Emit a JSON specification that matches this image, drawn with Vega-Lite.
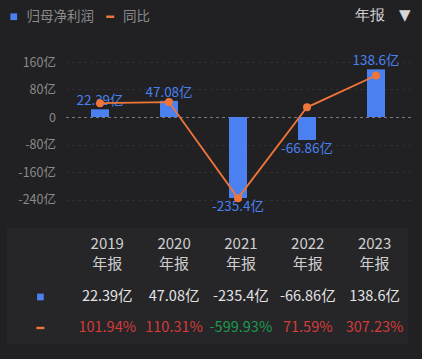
{
  "$schema": "https://vega.github.io/schema/vega-lite/v6.json",
  "width": 345,
  "height": 137.5,
  "autosize": {"type": "none"},
  "padding": {"left": 65.5, "top": 62, "right": 11.5, "bottom": 159.5},
  "background": "#212124",
  "config": {
    "font": "Noto Sans CJK SC",
    "view": {"stroke": null},
    "text": {"font": "Noto Sans CJK SC"}
  },
  "title": {
    "text": "年报\u00a0\u00a0\u00a0▼",
    "anchor": "end",
    "frame": "group",
    "font": "DejaVu Sans",
    "fontSize": 15,
    "fontWeight": "normal",
    "color": "#d6d6d6",
    "offset": -13
  },
  "datasets": {
    "main": [
      {"year": "2019", "profit": 22.39, "profitLabel": "22.39亿", "yoy": 101.94, "yoyLabel": "101.94%"},
      {"year": "2020", "profit": 47.08, "profitLabel": "47.08亿", "yoy": 110.31, "yoyLabel": "110.31%"},
      {"year": "2021", "profit": -235.4, "profitLabel": "-235.4亿", "yoy": -599.93, "yoyLabel": "-599.93%"},
      {"year": "2022", "profit": -66.86, "profitLabel": "-66.86亿", "yoy": 71.59, "yoyLabel": "71.59%"},
      {"year": "2023", "profit": 138.6, "profitLabel": "138.6亿", "yoy": 307.23, "yoyLabel": "307.23%"}
    ],
    "markers": [
      {"col": "sym", "row": "value", "kind": "归母净利润"},
      {"col": "sym", "row": "pct", "kind": "同比"}
    ],
    "panel": [{"from": "sym", "to": "2023", "top": "header", "bottom": "pct"}]
  },
  "layer": [
    {
      "data": {"name": "main"},
      "encoding": {
        "x": {"field": "year", "type": "nominal", "axis": null, "scale": {"type": "band", "paddingInner": 0, "paddingOuter": 0}},
        "y": {"field": "profit", "type": "quantitative", "scale": {"domain": [-240, 160], "nice": false, "zero": true},
          "axis": {
            "values": [-240, -160, -80, 0, 80, 160],
            "labelExpr": "datum.value == 0 ? '0' : datum.value + '亿'",
            "title": null, "ticks": false, "domain": false, "labelPadding": 10,
            "labelColor": "#8a8a8a", "labelFontSize": 12.5, "labelFlush": false, "labelOverlap": false,
            "grid": true, "gridDash": [3, 3], "gridWidth": 1,
            "gridColor": {"condition": {"test": "datum.value === 0", "value": "#7a7a7e"}, "value": "#2f2f33"}
          }}
      },
      "layer": [
        {
          "mark": {"type": "bar", "size": 18},
          "encoding": {
            "fill": {"datum": "归母净利润", "type": "nominal", "scale": {"range": ["#4a80ef"]},
              "legend": {"orient": "none", "legendX": -58.5, "legendY": -52, "title": null, "symbolType": "square", "symbolSize": 45, "labelColor": "#8a8a8a", "labelFontSize": 13.5, "labelOffset": 6, "padding": 0}}
          }
        },
        {
          "transform": [{"filter": "datum.profit >= 0"}],
          "mark": {"type": "text", "baseline": "middle", "dy": -8, "fontSize": 13.5, "color": "#4a80ef"},
          "encoding": {"text": {"field": "profitLabel", "type": "nominal"}}
        },
        {
          "transform": [{"filter": "datum.profit < 0"}],
          "mark": {"type": "text", "baseline": "middle", "dy": 9.5, "fontSize": 13.5, "color": "#4a80ef"},
          "encoding": {"text": {"field": "profitLabel", "type": "nominal"}}
        }
      ]
    },
    {
      "data": {"name": "main"},
      "encoding": {
        "x": {"field": "year", "type": "nominal", "axis": null, "scale": {"type": "band", "paddingInner": 0, "paddingOuter": 0}},
        "y": {"field": "yoy", "type": "quantitative", "axis": null, "scale": {"domain": [-610, 406.67], "nice": false, "zero": false}}
      },
      "layer": [
        {
          "mark": {"type": "line", "strokeWidth": 1.8},
          "encoding": {
            "stroke": {"datum": "同比", "type": "nominal", "scale": {"range": ["#f07538"]},
              "legend": {"orient": "none", "legendX": 38, "legendY": -52, "title": null, "symbolType": "stroke", "symbolSize": 64, "symbolStrokeWidth": 2.5, "labelColor": "#8a8a8a", "labelFontSize": 13.5, "labelOffset": 6, "padding": 0}}
          }
        },
        {
          "mark": {"type": "point", "filled": true, "size": 64, "opacity": 1, "color": "#f07538"}
        }
      ]
    },
    {
      "layer": [
        {
          "data": {"name": "panel"},
          "mark": {"type": "rect", "fill": "#262629"},
          "encoding": {
            "x": {"field": "from", "type": "nominal", "bandPosition": 0, "axis": null, "scale": {"domain": ["sym", "2019", "2020", "2021", "2022", "2023"], "range": [-58.5, 342.5], "paddingInner": 0, "paddingOuter": 0}},
            "x2": {"field": "to", "bandPosition": 1},
            "y": {"field": "top", "type": "nominal", "bandPosition": 0, "axis": null, "scale": {"domain": ["header", "value", "pct"], "range": [166, 282], "paddingInner": 0, "paddingOuter": 0}},
            "y2": {"field": "bottom", "bandPosition": 1}
          }
        },
        {
          "data": {"name": "main"},
          "mark": {"type": "text", "baseline": "middle", "dy": -3.3, "fontSize": 15, "color": "#cfcfcf"},
          "encoding": {
            "x": {"field": "year", "type": "nominal", "axis": null, "scale": {"domain": ["sym", "2019", "2020", "2021", "2022", "2023"], "range": [-58.5, 342.5], "paddingInner": 0, "paddingOuter": 0}},
            "y": {"datum": "header", "type": "nominal", "axis": null, "scale": {"domain": ["header", "value", "pct"], "range": [166, 282], "paddingInner": 0, "paddingOuter": 0}},
            "text": {"field": "year", "type": "nominal"}
          }
        },
        {
          "data": {"name": "main"},
          "mark": {"type": "text", "baseline": "middle", "dy": 16.7, "fontSize": 15, "color": "#cfcfcf", "text": "年报"},
          "encoding": {
            "x": {"field": "year", "type": "nominal", "axis": null, "scale": {"domain": ["sym", "2019", "2020", "2021", "2022", "2023"], "range": [-58.5, 342.5], "paddingInner": 0, "paddingOuter": 0}},
            "y": {"datum": "header", "type": "nominal", "axis": null, "scale": {"domain": ["header", "value", "pct"], "range": [166, 282], "paddingInner": 0, "paddingOuter": 0}}
          }
        },
        {
          "data": {"name": "main"},
          "mark": {"type": "text", "baseline": "middle", "dy": 11, "fontSize": 14.5, "color": "#e2e2e2"},
          "encoding": {
            "x": {"field": "year", "type": "nominal", "axis": null, "scale": {"domain": ["sym", "2019", "2020", "2021", "2022", "2023"], "range": [-58.5, 342.5], "paddingInner": 0, "paddingOuter": 0}},
            "y": {"datum": "value", "type": "nominal", "axis": null, "scale": {"domain": ["header", "value", "pct"], "range": [166, 282], "paddingInner": 0, "paddingOuter": 0}},
            "text": {"field": "profitLabel", "type": "nominal"}
          }
        },
        {
          "data": {"name": "main"},
          "mark": {"type": "text", "baseline": "middle", "dy": 3.3, "fontSize": 14.5},
          "encoding": {
            "x": {"field": "year", "type": "nominal", "axis": null, "scale": {"domain": ["sym", "2019", "2020", "2021", "2022", "2023"], "range": [-58.5, 342.5], "paddingInner": 0, "paddingOuter": 0}},
            "y": {"datum": "pct", "type": "nominal", "axis": null, "scale": {"domain": ["header", "value", "pct"], "range": [166, 282], "paddingInner": 0, "paddingOuter": 0}},
            "text": {"field": "yoyLabel", "type": "nominal"},
            "color": {"condition": {"test": "datum.yoy < 0", "value": "#1b9b4f"}, "value": "#d63b38"}
          }
        },
        {
          "data": {"name": "markers"},
          "transform": [{"filter": "datum.row == 'value'"}],
          "mark": {"type": "point", "shape": "square", "filled": true, "size": 45, "opacity": 1, "color": "#4a80ef", "yOffset": 11},
          "encoding": {
            "x": {"field": "col", "type": "nominal", "axis": null, "scale": {"domain": ["sym", "2019", "2020", "2021", "2022", "2023"], "range": [-58.5, 342.5], "paddingInner": 0, "paddingOuter": 0}},
            "y": {"field": "row", "type": "nominal", "axis": null, "scale": {"domain": ["header", "value", "pct"], "range": [166, 282], "paddingInner": 0, "paddingOuter": 0}}
          }
        },
        {
          "data": {"name": "markers"},
          "transform": [{"filter": "datum.row == 'pct'"}],
          "mark": {"type": "point", "shape": "M-1,-0.3H1V0.3H-1Z", "filled": true, "size": 64, "opacity": 1, "color": "#f07538", "yOffset": 3.3},
          "encoding": {
            "x": {"field": "col", "type": "nominal", "axis": null, "scale": {"domain": ["sym", "2019", "2020", "2021", "2022", "2023"], "range": [-58.5, 342.5], "paddingInner": 0, "paddingOuter": 0}},
            "y": {"field": "row", "type": "nominal", "axis": null, "scale": {"domain": ["header", "value", "pct"], "range": [166, 282], "paddingInner": 0, "paddingOuter": 0}}
          }
        }
      ]
    }
  ],
  "resolve": {"scale": {"x": "independent", "y": "independent"}}
}
